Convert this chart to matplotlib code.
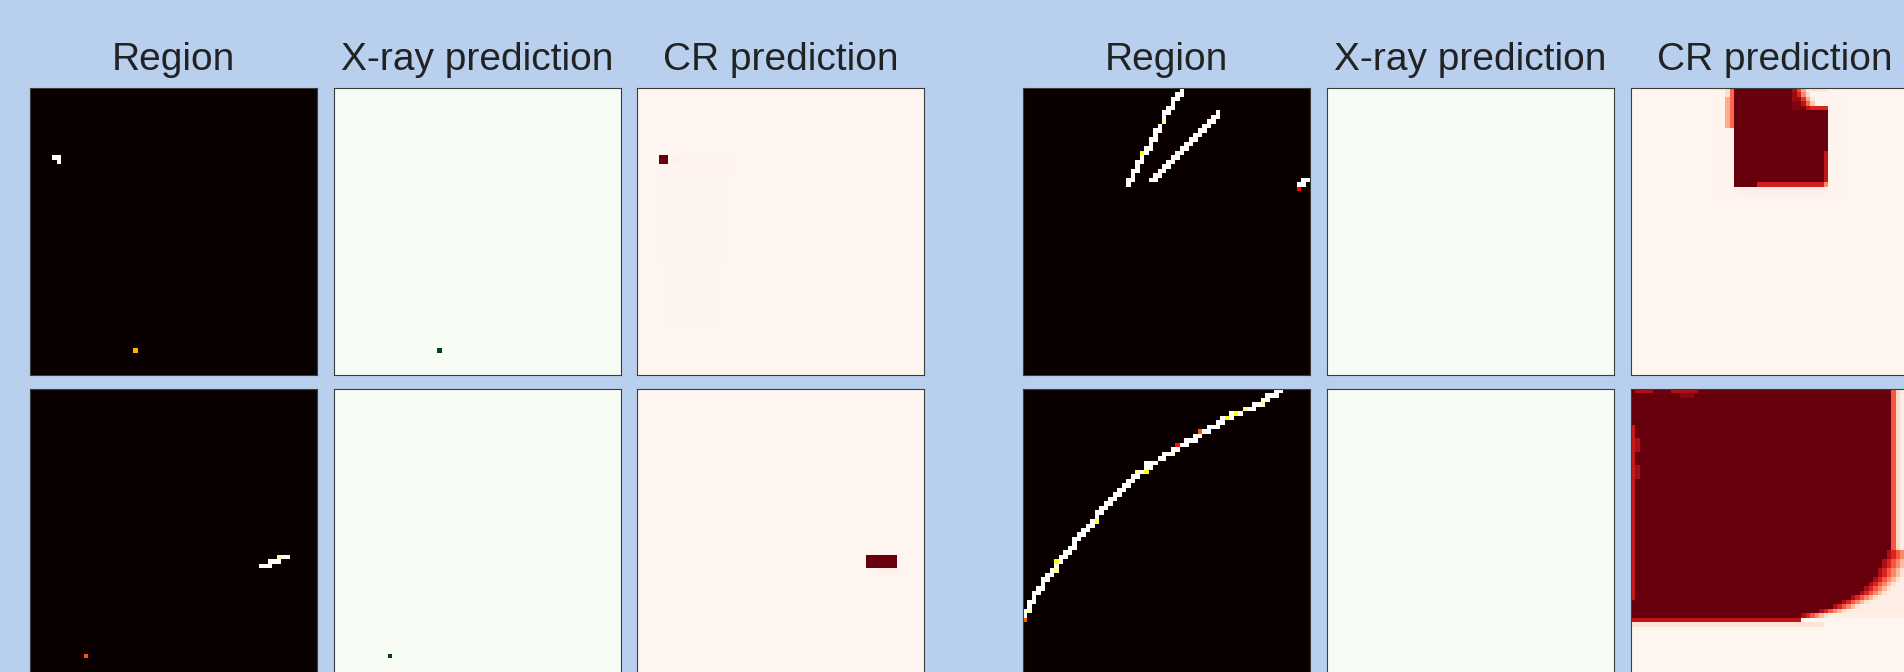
import numpy as np
import matplotlib
matplotlib.use("Agg")
import matplotlib.pyplot as plt

N = 64
titles = ["Region", "X-ray prediction", "CR prediction"]
cmaps = ["hot", "Greens", "Reds"]

# cells are (row0, row1, col0, col1, value), inclusive; later cells paint over earlier ones

# sample 1 (top left)
region_1 = [(15, 15, 5, 6, 1.0), (16, 16, 6, 6, 1.0), (58, 58, 23, 23, 0.63)]
xray_1 = [(58, 58, 23, 23, 1.0)]
cr_1 = [(15, 17, 5, 20, 0.008), (18, 38, 5, 18, 0.007), (39, 52, 6, 17, 0.006),
        (15, 16, 5, 6, 1.0), (15, 16, 8, 9, 0.02)]

# sample 2 (bottom left)
region_2 = [(37, 37, 55, 57, 1.0), (37, 37, 55, 55, 0.92), (38, 38, 53, 55, 1.0),
            (39, 39, 51, 53, 1.0), (59, 59, 12, 12, 0.49)]
xray_2 = [(59, 59, 12, 12, 1.0)]
cr_2 = [(40, 40, 54, 57, 0.04), (37, 39, 51, 57, 1.0)]

# sample 3 (top right): two streaks plus a clipped one at the edge
streak_a = [(0, 35, 35), (1, 34, 35), (2, 33, 34), (3, 33, 33), (4, 32, 33), (5, 31, 32),
            (6, 31, 31), (7, 31, 31), (8, 30, 30), (9, 29, 30), (10, 29, 29), (11, 28, 29),
            (12, 28, 28), (13, 27, 28), (14, 26, 27), (15, 26, 26), (16, 25, 26), (17, 25, 25),
            (18, 24, 25), (19, 24, 24), (20, 23, 24), (21, 23, 23)]
streak_b = [(5, 43, 43), (6, 42, 43), (7, 41, 42), (8, 40, 41), (9, 39, 40), (10, 38, 39),
            (11, 37, 38), (12, 36, 37), (13, 35, 36), (14, 34, 35), (15, 33, 34), (16, 32, 33),
            (17, 31, 32), (18, 30, 31), (19, 29, 30), (20, 28, 29)]
region_3_extra = [(7, 7, 31, 31, 0.9), (14, 14, 26, 26, 0.75),
                  (20, 20, 62, 63, 1.0), (21, 21, 61, 62, 1.0), (22, 22, 61, 61, 0.37)]
xray_3 = []
cr_3 = [(0, 24, 18, 46, 0.012), (22, 23, 24, 43, 0.03),
        (0, 8, 22, 22, 0.5), (0, 8, 21, 21, 0.3), (0, 1, 21, 21, 0.12),
        (0, 4, 23, 35, 1.0), (5, 20, 23, 43, 1.0), (21, 21, 23, 27, 1.0),
        (21, 21, 28, 42, 0.72), (14, 21, 43, 43, 0.78), (21, 21, 43, 43, 0.4),
        # notch above the right half of the patch
        (0, 0, 36, 36, 0.85), (0, 0, 37, 37, 0.6), (0, 0, 38, 38, 0.3), (0, 0, 39, 43, 0.08),
        (1, 1, 36, 36, 0.9), (1, 1, 37, 37, 0.7), (1, 1, 38, 38, 0.4), (1, 1, 39, 39, 0.15),
        (2, 2, 36, 37, 0.9), (2, 2, 38, 38, 0.65), (2, 2, 39, 39, 0.3), (2, 2, 40, 40, 0.1),
        (3, 3, 36, 37, 0.95), (3, 3, 38, 38, 0.8), (3, 3, 39, 39, 0.5), (3, 3, 40, 40, 0.2),
        (4, 4, 36, 38, 0.95), (4, 4, 39, 39, 0.8), (4, 4, 40, 43, 0.7),
        (20, 22, 61, 63, 1.0)]

# sample 4 (bottom right): long curved track
track = [(0, 56, 57), (1, 54, 56), (2, 53, 54), (3, 51, 53), (4, 49, 51), (5, 46, 48),
         (6, 44, 46), (7, 43, 44), (8, 41, 43), (9, 39, 41), (10, 38, 39), (11, 36, 38),
         (12, 34, 36), (13, 33, 34), (14, 31, 33), (15, 30, 31), (16, 27, 29), (17, 27, 28),
         (18, 25, 27), (19, 24, 25), (20, 23, 24), (21, 22, 23), (22, 21, 22), (23, 20, 21),
         (24, 19, 20), (25, 18, 19), (26, 17, 18), (27, 16, 17), (28, 16, 16), (29, 15, 16),
         (30, 14, 15), (31, 13, 14), (32, 12, 13), (33, 11, 12), (34, 11, 11), (35, 10, 11),
         (36, 9, 10), (37, 8, 9), (38, 7, 8), (39, 7, 7), (40, 6, 7), (41, 5, 6), (42, 4, 5),
         (43, 4, 4), (44, 3, 4), (45, 2, 3), (46, 2, 2), (47, 1, 2), (48, 1, 1), (49, 0, 1),
         (50, 0, 0), (51, 0, 0)]
track_spots = [(3, 53, 0.9), (4, 49, 0.9), (5, 47, 0.75), (6, 45, 0.75), (9, 39, 0.5),
               (12, 34, 0.38), (14, 33, 0.92), (18, 27, 0.78), (18, 25, 0.92), (29, 16, 0.8),
               (38, 7, 0.76), (40, 7, 0.9), (49, 1, 0.92), (51, 0, 0.5)]
xray_4 = []
cr_4_base = [(52, 52, 0, 42, 0.1), (0, 50, 0, 57, 1.0), (51, 51, 0, 37, 0.78),
             (0, 0, 1, 4, 0.85), (0, 0, 9, 14, 0.85), (1, 1, 11, 13, 0.93),
             (8, 46, 0, 0, 0.75), (11, 13, 1, 1, 0.85), (17, 19, 1, 1, 0.88),
             (0, 38, 58, 58, 0.55), (0, 42, 59, 59, 0.15), (0, 45, 60, 60, 0.05)]
# rows where the dark patch stops short of its right edge
cr_4_rows = [36, 38, 40, 42, 43, 44, 45, 46, 47, 48, 49, 50]
cr_4_ends = [56, 55, 54, 53, 52, 51, 50, 48, 46, 44, 41, 37]
cr_4_fade = [0.85, 0.7, 0.55, 0.4, 0.25, 0.12]


def to_grid(cells):
    grid = np.zeros((N, N))
    for r0, r1, c0, c1, v in cells:
        grid[r0:r1 + 1, c0:c1 + 1] = v
    return grid


def runs(rows, v=1.0):
    return [(r, r, c0, c1, v) for r, c0, c1 in rows]


region_3 = runs(streak_a) + runs(streak_b) + region_3_extra
region_4 = runs(track) + [(r, r, c, c, v) for r, c, v in track_spots]

cr_4_edge = []
for i, r in enumerate(cr_4_rows):
    r1 = cr_4_rows[i + 1] - 1 if i + 1 < len(cr_4_rows) else r
    cr_4_edge.append((r, r1, cr_4_ends[i] + 1, 60, 0.05))
    for k, v in enumerate(cr_4_fade):
        c = cr_4_ends[i] + 1 + k
        if c <= 60:
            cr_4_edge.append((r, r1, c, c, v))
cr_4 = cr_4_base + cr_4_edge

samples = [
    (region_1, xray_1, cr_1),
    (region_2, xray_2, cr_2),
    (region_3, xray_3, cr_3),
    (region_4, xray_4, cr_4),
]

W, H = 1904, 672
fig = plt.figure(figsize=(W / 100, H / 100), dpi=100)
fig.patch.set_facecolor("#b8d0ee")

col_x = [[30, 334, 637], [1023, 1327, 1631]]
row_y = [88, 389]
size = 287

for s, panels in enumerate(samples):
    group, row = s // 2, s % 2
    for j, cells in enumerate(panels):
        x0, y0 = col_x[group][j], row_y[row]
        ax = fig.add_axes([x0 / W, 1 - (y0 + size) / H, size / W, size / H])
        ax.imshow(to_grid(cells), cmap=cmaps[j], vmin=0, vmax=1,
                  interpolation="nearest", aspect="auto")
        ax.set_xticks([])
        ax.set_yticks([])
        for sp in ax.spines.values():
            sp.set_color("#3c3c3c")
            sp.set_linewidth(0.8)
        if row == 0:
            ax.text(0.5, 1 + 18 / size, titles[j], transform=ax.transAxes,
                    ha="center", va="baseline", fontsize=28, color="#222222",
                    family=["Liberation Sans", "DejaVu Sans"])

fig.savefig("out.png", dpi=100, facecolor=fig.get_facecolor())
